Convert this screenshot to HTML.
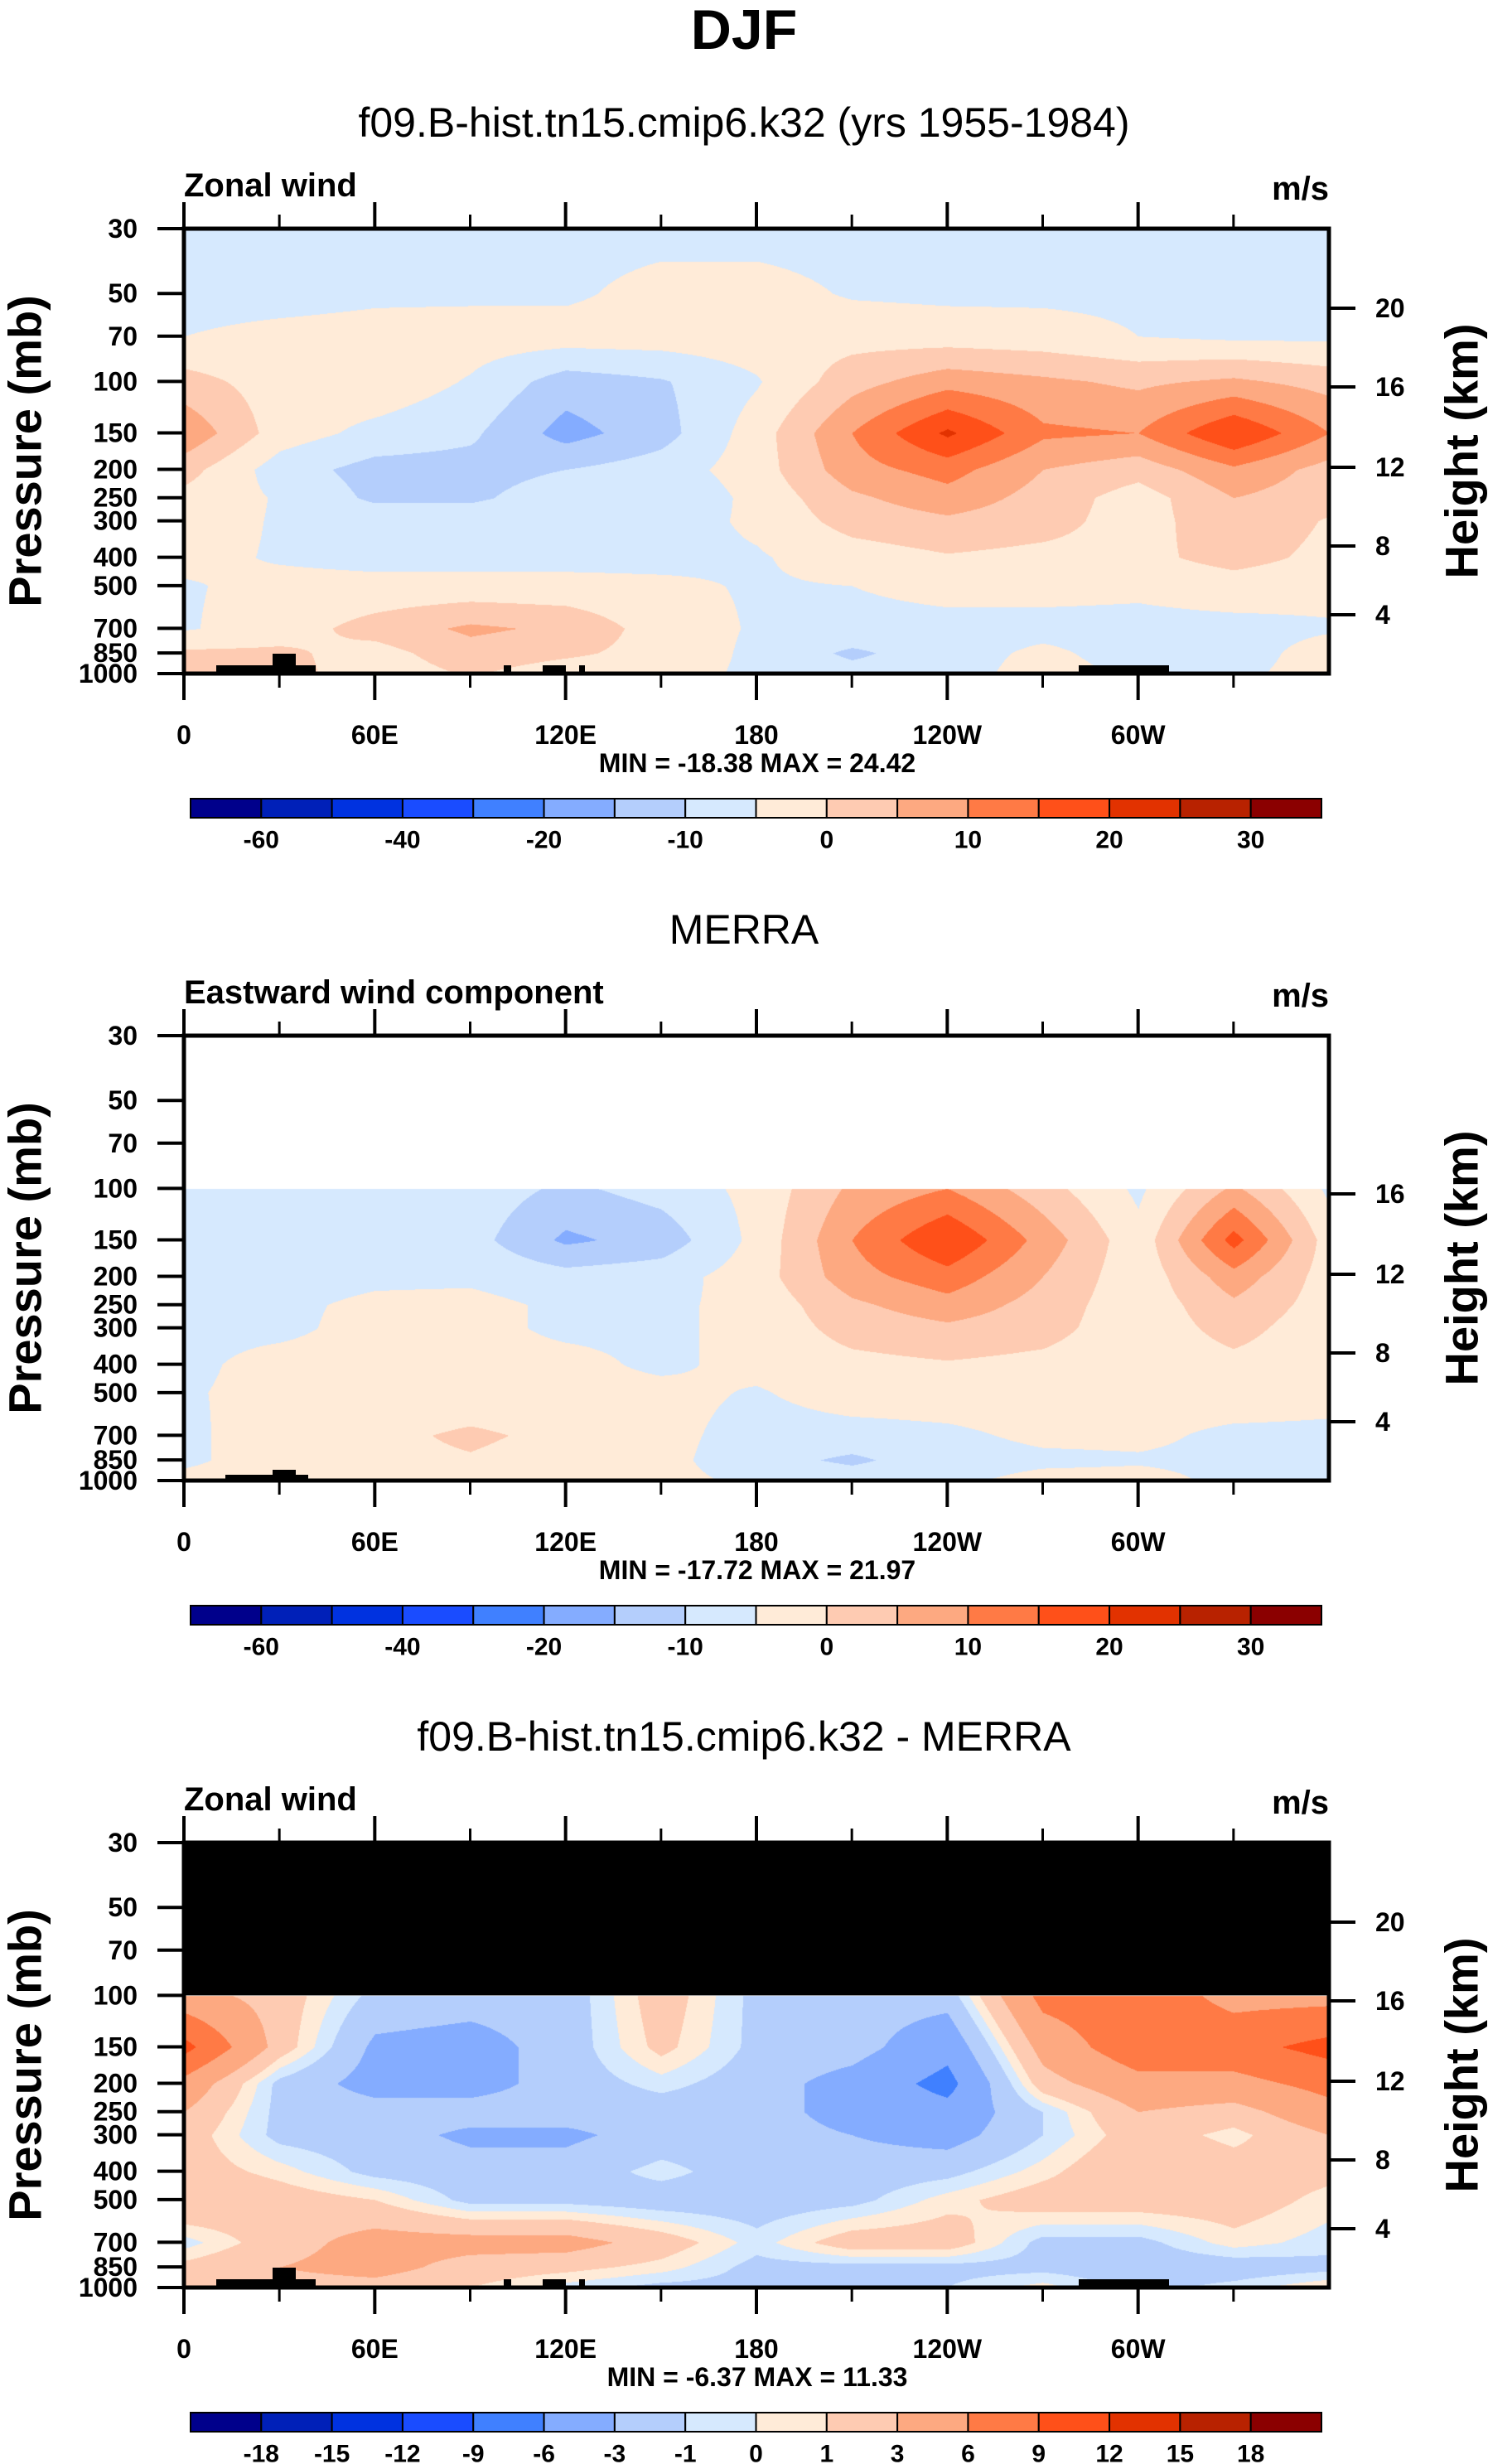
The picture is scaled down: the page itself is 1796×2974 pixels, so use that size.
<!DOCTYPE html>
<html><head><meta charset="utf-8">
<style>
html,body{margin:0;padding:0;background:#fff;}
#wrap{position:relative;width:1796px;height:2974px;overflow:hidden;}
canvas{position:absolute;}
svg{position:absolute;left:0;top:0;}
text{font-family:"Liberation Sans",sans-serif;}
</style></head>
<body>
<div id="wrap">
<canvas id="c0"></canvas>
<canvas id="c1"></canvas>
<canvas id="c2"></canvas>
<svg id="svg" width="1796" height="2974" xmlns="http://www.w3.org/2000/svg"></svg>
</div>
<script>
// ---- data ----
const lons = [0,30,60,90,120,150,180,210,240,270,300,330,360];
const levels = [30,50,70,100,150,200,250,300,400,500,700,850,1000];
const model = [
 [-7,-7,-7,-7,-7,-7,-7,-7,-7,-7,-7,-7,-7],
 [-7,-7,-6,-6,-6,-3,-3,-5.5,-6,-6,-6,-7,-7],
 [-5,-3.5,-3,-2.5,-2.5,-2.5,-2,-2,-2.5,-3,-5,-6,-6],
 [2,-2.5,-1.5,-5.5,-12.5,-10.5,-5.5,3,8,6,4,6,3],
 [9,-2.5,-6.5,-9,-17,-12,-2.5,10,21,11,10,20,10],
 [2,-7.5,-12,-12,-10,-7.5,-2.5,8,12,5,2,9,3],
 [-1.5,-5.5,-11,-11,-7,-9.5,-3.5,4,8,3,-2.5,5,2],
 [-2.5,-5.5,-6.5,-6.5,-5.5,-7.5,-4,2,4,2,-2.5,4,-0.5],
 [-3.5,-5.5,-6.5,-6.5,-6.5,-6.5,-5.5,-2.5,-0.5,-1.5,-1.5,2,-1.5],
 [-5.5,-3.5,-3.5,-3.5,-3.5,-4,-5.5,-5,-3.5,-3.5,-4,-2.5,-3.5],
 [-5.5,-2.5,2,6,4,-2.5,-5.5,-6.5,-6.5,-6.5,-6.5,-6.5,-5.5],
 [1,1,-2,3,1,-2,-6,-11,-7,-4,-7,-7,-3],
 [2,2,-3,0.5,-3,-3,-6,-8,-7,-3,-6,-6,-3]
];
const merra = [
 null,null,null,
 [-6,-6,-6,-7,-11,-8,-3.5,6,10,2,-6,6,-6],
 [-7,-7,-6,-8,-16,-13,-3.5,10,20,8,-3.5,17,-2.5],
 [-7,-7,-6,-6,-8,-7,-2.5,8,13,5,-3.5,8,-2.5],
 [-7,-6,-4,-3.5,-6,-6,-3.5,4,8,3,-3.5,4,-2.5],
 [-6,-6,-3.5,-3.5,-6,-6,-3.5,2,4,2,-3.5,2,-3.5],
 [-6,-3.5,-3.5,-3.5,-3.5,-6,-3.5,-1.5,-0.5,-1.5,-3.5,-1.5,-3.5],
 [-5.5,-3.5,-3.5,-3.5,-3.5,-3.5,-5.5,-2.5,-2.5,-2.5,-3.5,-2.5,-3.5],
 [-6,-2.5,-1.5,1,-1.5,-3.5,-7,-7,-6,-4,-4,-6,-6],
 [-6,-2.5,-1.5,-0.5,-2.5,-3.5,-8,-11,-7,-6,-5.5,-6,-6],
 [-3.5,-2.5,-2.5,-1.5,-3.5,-3.5,-6,-7,-6,-3.5,-3.5,-6,-6]
];
const diff = [
 null,null,null,
 [4,2,-1.5,-2,-2,2,-1.5,-2,-2,7,8,5,5],
 [10,2,-3.5,-4,-2,1.5,-1.5,-2,-5,4,8,8,10],
 [5,-1.5,-4,-4,-2,-0.5,-2,-4,-7,2,5,5,7],
 [3,-1.5,-2,-2,-2,-2,-2,-4,-5,-1,3,2,5],
 [2,-1.5,-2,-3.5,-3.5,-2,-2,-3,-4,-1,2,0.5,3],
 [2,0.5,-1.5,-2,-2,-0.5,-2,-2,-1.5,0.5,3,2,1.5],
 [3,2,1,-1.5,-1.5,-2,-2,-1.5,0.5,2,2,2,0.5],
 [-0.5,2,4,4,4,2,-0.5,2,2,-1.5,-1.5,0.5,-0.5],
 [1.5,3,4,2,1.5,0.5,-1.5,-1.5,-1.5,-1.5,-2,-2,-1.5],
 [2,2,2,1,-0.5,-1.5,-1.5,-1.5,-1,0.5,-1.5,-0.5,1]
];
const fullLevels = [-60,-50,-40,-30,-20,-15,-10,-5,0,5,10,15,20,25,30];
const diffLevels = [-18,-15,-12,-9,-6,-3,-1,0,1,3,6,9,12,15,18];
const fullLabels = ["","-60","","-40","","-20","","-10","","0","","10","","20","","30"];
const diffLabels = ["","-18","-15","-12","-9","-6","-3","-1","0","1","3","6","9","12","15","18"];
const xTickLabels = ["0","60E","120E","180","120W","60W"];
const heightTicks1 = [[20,372],[16,467],[12,564],[8,659],[4,742]];
const colors = ["#00008B","#0020B8","#0032E0","#1A4CFF","#4080FF","#84ACFF","#B4CEFC","#D6E9FE",
 "#FFEBD8","#FECBB2","#FDA981","#FF7A45","#FF5019","#E23200","#B82200","#8B0000"];
// ---- layout ----
const L=222,R=1604,W=R-L,H=537;
const tops=[276,1250,2224];
const svg=document.getElementById('svg');
const NS="http://www.w3.org/2000/svg";
function mk(tag,attrs,parent){const e=document.createElementNS(NS,tag);for(const k in attrs)e.setAttribute(k,attrs[k]);(parent||svg).appendChild(e);return e;}
function txt(s,x,y,size,weight,anchor,parent){const t=mk('text',{x:x,y:y,'font-size':size,'font-weight':weight,'text-anchor':anchor||'middle','dominant-baseline':'central'},parent);t.textContent=s;return t;}
const xScale=lon=>L+lon/360*W;
const yScale=(p,top)=>top+Math.log(p/30)/Math.log(1000/30)*H;
function hexRgb(h){return [parseInt(h.slice(1,3),16),parseInt(h.slice(3,5),16),parseInt(h.slice(5,7),16)];}
const rgb=colors.map(hexRgb);
function colorIdx(v,lv){let i=0;while(i<lv.length&&v>=lv[i])i++;return i;}
function drawField(id,top,data,lv){
 const c=document.getElementById(id);c.width=W;c.height=H;c.style.left=L+'px';c.style.top=top+'px';
 const ctx=c.getContext('2d');const img=ctx.createImageData(W,H);
 const ly=levels.map(p=>yScale(p,0));
 for(let y=0;y<H;y++){
  let j=0;while(j<levels.length-2&&ly[j+1]<y)j++;
  const ty=Math.min(1,Math.max(0,(y-ly[j])/(ly[j+1]-ly[j])));
  const r0=data[j],r1=data[j+1];
  for(let x=0;x<W;x++){
   const o=(y*W+x)*4;
   if(!r0||!r1){img.data[o+3]=0;continue;}
   const fx=x/W*(lons.length-1);const i=Math.min(lons.length-2,Math.floor(fx));const tx=fx-i;
   const v=(r0[i]*(1-tx)+r0[i+1]*tx)*(1-ty)+(r1[i]*(1-tx)+r1[i+1]*tx)*ty;
   const cc=rgb[colorIdx(v,lv)];
   img.data[o]=cc[0];img.data[o+1]=cc[1];img.data[o+2]=cc[2];img.data[o+3]=255;
  }
 }
 ctx.putImageData(img,0,0);
}
drawField('c0',tops[0],model,fullLevels);
drawField('c1',tops[1],merra,fullLevels);
drawField('c2',tops[2],diff,diffLevels);

let e=txt("DJF",898,36,68,'bold');



const panelTitles=["f09.B-hist.tn15.cmip6.k32 (yrs 1955-1984)","MERRA","f09.B-hist.tn15.cmip6.k32 - MERRA"];
const leftStrings=["Zonal wind","Eastward wind component","Zonal wind"];
const minmax=["MIN = -18.38  MAX =  24.42","MIN = -17.72  MAX =  21.97","MIN =  -6.37  MAX = 11.33"];
const topoSets=[
 [[261,381,803],[329,357,789],[608,617,803],[655,683,803],[699,706,803],[1302,1411,803]],
 [[272,372,1780],[329,357,1774]],
 [[261,381,2751],[329,357,2737],[608,617,2751],[655,683,2751],[699,706,2751],[1302,1411,2751]]
];
const heightTicksAll=[heightTicks1, heightTicks1.slice(1).map(a=>[a[0],a[1]+974]), heightTicks1.map(a=>[a[0],a[1]+1948])];

tops.forEach((top,k)=>{
 const g=mk('g',{});
 
 
 let t=txt(panelTitles[k],898,top-128,50,'normal','middle',g);
 
 
 t=txt(leftStrings[k],222,top-52,40,'bold','start',g);
 
 
 t=txt("m/s",1604,top-48,40,'bold','end',g);
 
 
 if(k===2){
  const b=mk('rect',{x:L,y:top,width:W,height:yScale(100,top)-top,fill:'#000'},g);
  
  
 }
 topoSets[k].forEach(s=>{
  const r=mk('rect',{x:s[0],y:s[2],width:s[1]-s[0],height:(top+H)-s[2],fill:'#000'},g);
  
  
 });
 const f=mk('rect',{x:L,y:top,width:W,height:H,fill:'none',stroke:'#000','stroke-width':5},g);
 
 
 for(let lon=0;lon<=330;lon+=30){
  const x=xScale(lon),major=lon%60===0,len=major?32:17;
  let l=mk('line',{x1:x,x2:x,y1:top,y2:top-len,stroke:'#000','stroke-width':major?4:3},g);
  
  
  l=mk('line',{x1:x,x2:x,y1:top+H,y2:top+H+len,stroke:'#000','stroke-width':major?4:3},g);
  
  
 }
 xTickLabels.forEach((s,i)=>{
  const tl=txt(s,xScale(i*60),top+611,32,'bold','middle',g);
  
  
 });
 levels.forEach(p=>{
  const y=yScale(p,top);
  const l=mk('line',{x1:L-32,x2:L,y1:y,y2:y,stroke:'#000','stroke-width':4},g);
  
  
  const tl=txt(String(p),166,y,32,'bold','end',g);
  
  
 });
 heightTicksAll[k].forEach(h=>{
  const l=mk('line',{x1:R,x2:R+32,y1:h[1],y2:h[1],stroke:'#000','stroke-width':4},g);
  
  
  const tl=txt(String(h[0]),1660,h[1],32,'bold','start',g);
  
  
 });
 let yt=txt("Pressure (mb)",0,0,56,'bold','middle',g);
 yt.setAttribute('transform','translate(30,'+(top+H/2)+') rotate(-90)');
 
 
 yt=txt("Height (km)",0,0,56,'bold','middle',g);
 yt.setAttribute('transform','translate(1764,'+(top+H/2)+') rotate(-90)');
 
 
 t=txt(minmax[k],914,top+645,32,'bold','middle',g);
 
 
 const cb=mk('g',{},g);
 
 
 const bx=230,bw=1365/16,by=top+688,bh=23;
 const labs=k===2?diffLabels:fullLabels;
 colors.forEach((c,i)=>{
  const r=mk('rect',{x:bx+i*bw,y:by,width:bw,height:bh,fill:c,stroke:'#000','stroke-width':2},cb);
  
  
 });
 labs.forEach((s,i)=>{
  if(!s)return;
  const tl=txt(s,bx+i*bw,top+738,30,'bold','middle',cb);
  
  
 });
});
</script>
</body></html>
